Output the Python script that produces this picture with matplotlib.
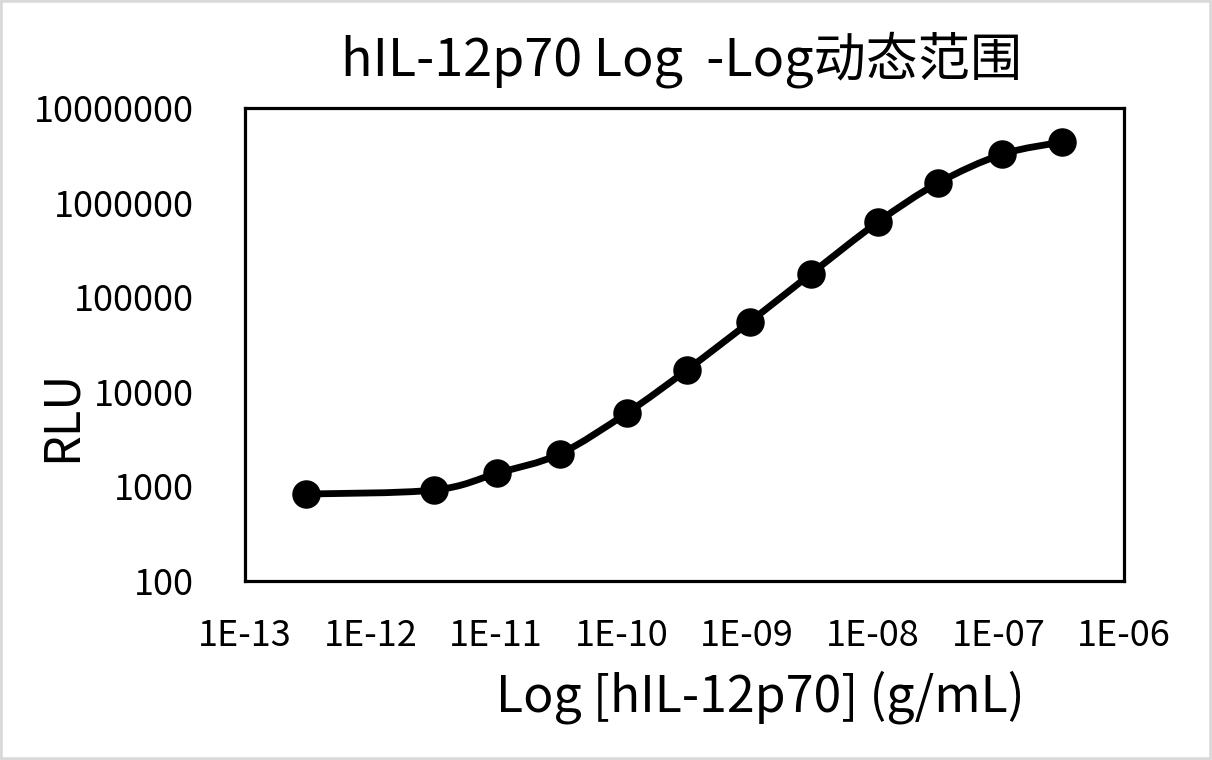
import numpy as np
import matplotlib
matplotlib.use("Agg")
import matplotlib.pyplot as plt
from matplotlib.path import Path
from matplotlib.patches import PathPatch, Rectangle

plt.rcParams['font.family'] = ['Noto Sans CJK SC', 'DejaVu Sans']

# datos
conc = [3.05e-13, 3.2e-12, 1.02e-11, 3.2e-11, 1.1e-10, 3.3e-10,
        1.05e-9, 3.2e-9, 1.1e-8, 3.3e-8, 1.07e-7, 3.2e-7]
rlu = [830, 915, 1380, 2200, 5970, 17000,
       55000, 176000, 624000, 1610000, 3240000, 4370000]
xticks = [1e-13, 1e-12, 1e-11, 1e-10, 1e-9, 1e-8, 1e-7, 1e-6]
xticklabels = ["1E-13", "1E-12", "1E-11", "1E-10", "1E-09", "1E-08", "1E-07", "1E-06"]
yticks = [100, 1000, 10000, 100000, 1000000, 10000000]
yticklabels = ["100", "1000", "10000", "100000", "1000000", "10000000"]

titulo = "hIL-12p70 Log  -Log动态范围"
etiqueta_x = "Log [hIL-12p70] (g/mL)"
etiqueta_y = "RLU"

Ancho, Largo = 12.12, 7.6
Figura = plt.figure(figsize=(Ancho, Largo), dpi=100)
Figura.patches.append(Rectangle((0, 0), 1, 1, transform=Figura.transFigure,
                                fill=False, edgecolor="#d9d9d9", linewidth=4))

Grafico = Figura.add_axes([245 / 1212, 1 - 581 / 760, 879 / 1212, 473 / 760])
Grafico.set_xscale("log")
Grafico.set_yscale("log")
Grafico.set_xlim(1e-13, 1e-6)
Grafico.set_ylim(100, 1e7)

# linea suavizada tipo Excel (Bezier en espacio logaritmico)
lx = np.log10(conc)
ly = np.log10(rlu)
n = len(lx)
verts = [(conc[0], rlu[0])]
codes = [Path.MOVETO]
for i in range(n - 1):
    a = max(i - 1, 0)
    b = min(i + 2, n - 1)
    c1 = (lx[i] + (lx[i + 1] - lx[a]) / 6, ly[i] + (ly[i + 1] - ly[a]) / 6)
    c2 = (lx[i + 1] - (lx[b] - lx[i]) / 6, ly[i + 1] - (ly[b] - ly[i]) / 6)
    verts += [(10 ** c1[0], 10 ** c1[1]), (10 ** c2[0], 10 ** c2[1]), (conc[i + 1], rlu[i + 1])]
    codes += [Path.CURVE4] * 3
Grafico.add_patch(PathPatch(Path(verts, codes), fill=False, edgecolor="black",
                            linewidth=4.9, capstyle="round", joinstyle="round"))
Grafico.plot(conc, rlu, "o", color="black", markersize=19.5, zorder=3)

Grafico.xaxis.set_minor_locator(matplotlib.ticker.NullLocator())
Grafico.yaxis.set_minor_locator(matplotlib.ticker.NullLocator())
Grafico.set_xticks(xticks)
Grafico.set_xticklabels(xticklabels)
Grafico.set_yticks(yticks)
Grafico.set_yticklabels(yticklabels)
Grafico.tick_params(length=0, labelsize=26)
Grafico.tick_params(axis="x", pad=27)
Grafico.tick_params(axis="y", pad=37)
for s in Grafico.spines.values():
    s.set_linewidth(2.3)

Figura.text(682 / 1212, 1 - 60 / 760, titulo, ha="center", va="center", fontsize=37.5)
Figura.text(760 / 1212, 1 - 697 / 760, etiqueta_x, ha="center", va="center", fontsize=36)
Figura.text(62 / 1212, 1 - 416 / 760, etiqueta_y, ha="center", va="center",
            fontsize=35, rotation=90)

Figura.savefig("out.png", dpi=100)
